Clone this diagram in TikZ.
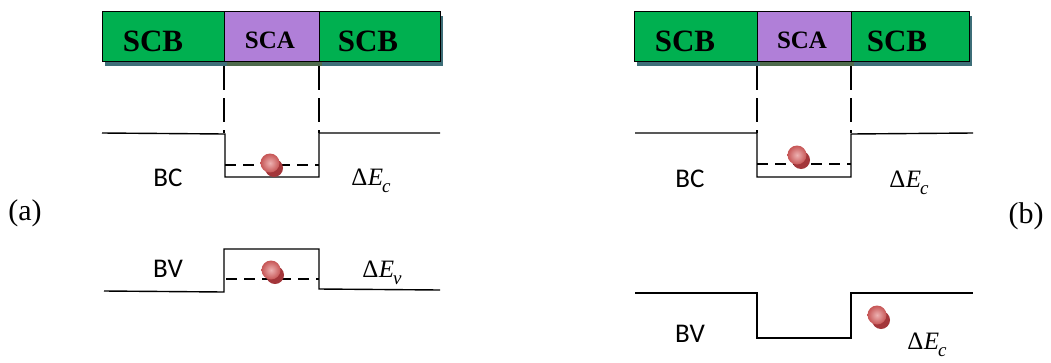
\documentclass[tikz,border=0pt]{standalone}
\usepackage{fontspec}
\setmainfont{Liberation Serif}
\newfontfamily\carlitofont{Carlito}
\definecolor{sgreen}{HTML}{00B050}
\definecolor{spurple}{HTML}{B07FD8}
\definecolor{shteal}{HTML}{3D6E78}
\definecolor{sholive}{HTML}{4E6A4C}
\definecolor{ballhi}{HTML}{EDB2B2}
\definecolor{ballmid}{HTML}{C65555}
\definecolor{balldark}{HTML}{A3363A}
\newcommand\dE[1]{\fontsize{25}{25}\selectfont Δ\kern0.5pt\textit{E}\kern-1pt\raisebox{-0.28em}{\fontsize{19}{19}\selectfont\textit{#1}}}
\tikzset{
  layer/.style={draw=black, line width=0.8pt, inner sep=0pt, minimum height=50, anchor=north west},
  bigtxt/.style={font=\fontsize{31}{31}\selectfont\bfseries, inner sep=0pt},
  smalltxt/.style={font=\fontsize{25}{25}\selectfont\bfseries, inner sep=0pt},
  band/.style={line width=1.4pt, line join=miter},
  bandd/.style={line width=1.2pt, dash pattern=on 11pt off 7pt},
  guide/.style={line width=1.2pt, dash pattern=on 24pt off 8pt},
  lbl/.style={font=\carlitofont\fontsize{27}{27}\selectfont, inner sep=0pt},
  mlbl/.style={inner sep=0pt},
  tag/.style={font=\fontsize{30}{30}\selectfont, inner sep=0pt},
  ball/.pic={
    \fill[balldark] (4,5) circle (9);
    \shade[inner color=ballhi, outer color=ballmid] (0,0) circle (9.5);
  }
}
\begin{document}
\begin{tikzpicture}[x=1pt,y=-1pt]
\useasboundingbox (0,0) rectangle (1051,362);
% ---------- panel (a) ----------
\fill[shteal] (105,16) rectangle (443,66);
\fill[sholive] (227,61) rectangle (322,66);
\node[layer, fill=sgreen, minimum width=122] (aL) at (102,11) {};
\node[layer, fill=spurple, minimum width=95] (aM) at (224,11) {};
\node[layer, fill=sgreen, minimum width=121] (aR) at (319,11) {};
\node[bigtxt] (aLt) at (153,41) {SCB};
\node[smalltxt] (aMt) at (270,40) {SCA};
\node[bigtxt] (aRt) at (368,41) {SCB};
\draw[guide] (224,66) -- (224,133);
\draw[guide] (319,66) -- (319,133);
\draw[band] (102,133) -- (225,134) -- (225,177) -- (319,177) -- (319,133) -- (440,133);
\draw[bandd] (225,165) -- (319,165);
\draw[band] (104,291) -- (224,292) -- (224,249) -- (319,249) -- (319,289) -- (440,290);
\draw[bandd] (226,279) -- (319,279);
\pic at (270,163) {ball};
\pic at (271,270) {ball};
\node[lbl] (aBC) at (168,178) {BC};
\node[mlbl] (aEc) at (371,181) {\dE{c}};
\node[lbl] (aBV) at (168,269) {BV};
\node[mlbl] (aEv) at (382,273) {\dE{v}};
\node[tag] (ta) at (25,213) {(a)};
% ---------- panel (b) ----------
\fill[shteal] (637,16) rectangle (972,66);
\fill[sholive] (760,61) rectangle (854,66);
\node[layer, fill=sgreen, minimum width=123] (bL) at (634,11) {};
\node[layer, fill=spurple, minimum width=94] (bM) at (757,11) {};
\node[layer, fill=sgreen, minimum width=118] (bR) at (851,11) {};
\node[bigtxt] (bLt) at (685,41) {SCB};
\node[smalltxt] (bMt) at (802,40) {SCA};
\node[bigtxt] (bRt) at (897,41) {SCB};
\draw[guide] (757,66) -- (757,133);
\draw[guide] (851,66) -- (851,133);
\draw[band] (635,133) -- (757,133) -- (757,177) -- (851,177) -- (851,134) -- (973,133);
\draw[bandd] (757,164) -- (851,164);
\draw[band] (635,293) -- (757,293) -- (757,338) -- (851,338) -- (851,293) -- (973,293);
\pic at (797,155) {ball};
\pic at (877,315) {ball};
\node[lbl] (bBC) at (690,179) {BC};
\node[mlbl] (bEc) at (909,183) {\dE{c}};
\node[lbl] (bBV) at (690,334) {BV};
\node[mlbl] (bEc2) at (927,345) {\dE{c}};
\node[tag] (tb) at (1026,216) {(b)};
\end{tikzpicture}
\end{document}
